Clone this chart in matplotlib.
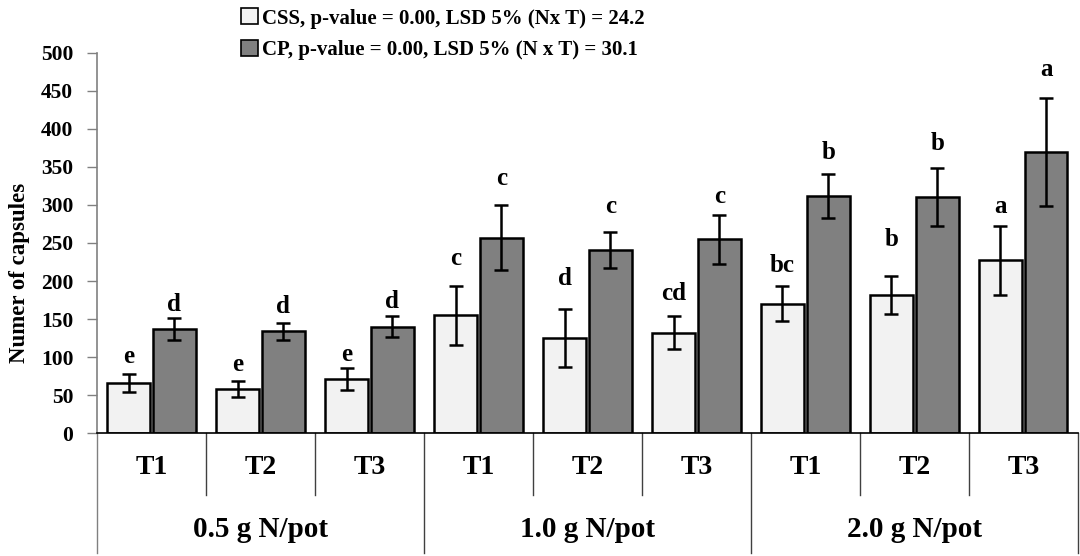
import numpy as np
import matplotlib
matplotlib.use("Agg")
import matplotlib.pyplot as plt
from matplotlib.patches import Patch

plt.rcParams['font.family'] = ['Liberation Serif', 'DejaVu Serif']
plt.rcParams['font.weight'] = 'bold'

treatments = ['T1', 'T2', 'T3'] * 3
groups = ['0.5 g N/pot', '1.0 g N/pot', '2.0 g N/pot']

css = [66, 58, 71, 155, 125, 132, 170, 181, 227]
css_err = [12, 10, 14, 39, 38, 22, 23, 25, 45]
css_let = ['e', 'e', 'e', 'c', 'd', 'cd', 'bc', 'b', 'a']
css_let_y = [92, 82, 95, 221, 195, 175, 212, 246, 290]

cp = [137, 134, 140, 257, 241, 255, 312, 311, 370]
cp_err = [14, 11, 14, 43, 24, 32, 29, 38, 71]
cp_let = ['d', 'd', 'd', 'c', 'c', 'c', 'b', 'b', 'a']
cp_let_y = [160, 158, 165, 326, 290, 302, 360, 373, 470]

fig = plt.figure(figsize=(10.8, 5.56), dpi=100)
ax = fig.add_axes([0.0898, 0.2212, 0.9082, 0.6835])

x = np.arange(len(css))
w = 0.39
off = 0.21

ax.bar(x - off, css, w, color='#f2f2f2', edgecolor='black', linewidth=1.8, zorder=2)
ax.bar(x + off, cp, w, color='#808080', edgecolor='black', linewidth=1.8, zorder=2)
ax.errorbar(x - off, css, yerr=css_err, fmt='none', ecolor='black', elinewidth=1.8,
            capsize=5, capthick=1.8, zorder=3)
ax.errorbar(x + off, cp, yerr=cp_err, fmt='none', ecolor='black', elinewidth=1.8,
            capsize=5, capthick=1.8, zorder=3)

for i in range(len(css)):
    ax.text(x[i] - off, css_let_y[i], css_let[i], ha='center', va='baseline',
            fontsize=18, fontweight='bold')
    ax.text(x[i] + off, cp_let_y[i], cp_let[i], ha='center', va='baseline',
            fontsize=18, fontweight='bold')

ax.set_xlim(-0.5, 8.5)
ax.set_ylim(0, 500)
ax.set_yticks(np.arange(0, 501, 50))
ax.tick_params(axis='y', labelsize=15.5, length=7, width=1, color='#808080', pad=10)
ax.set_xticks([])
ax.set_ylabel('Numer of capsules', fontsize=16.5, fontweight='bold')
ax.yaxis.set_label_coords(-0.068, 0.42)

for s in ['top', 'right']:
    ax.spines[s].set_visible(False)
ax.spines['left'].set_color('#808080')
ax.spines['left'].set_linewidth(1.2)
ax.spines['left'].set_bounds(0, 500)
ax.spines['bottom'].set_color('black')
ax.spines['bottom'].set_linewidth(1.2)

# category table below the axis
tr = ax.get_xaxis_transform()
for b in range(len(css) + 1):
    xb = b - 0.5
    y1 = -0.316 if b % 3 == 0 else -0.163
    col = '#808080' if b == 0 else '#404040'
    ax.plot([xb, xb], [0, y1], transform=tr, color=col, lw=1.0, clip_on=False)
for i, t in enumerate(treatments):
    ax.text(i, -0.09, t, transform=tr, ha='center', va='center', fontsize=20,
            fontweight='bold')
for g, name in enumerate(groups):
    ax.text(3 * g + 1, -0.255, name, transform=tr, ha='center', va='center',
            fontsize=21, fontweight='bold')

handles = [Patch(facecolor='#f2f2f2', edgecolor='black', linewidth=1.2),
           Patch(facecolor='#808080', edgecolor='black', linewidth=1.2)]
labels = ['CSS, p-value = 0.00, LSD 5% (Nx T) = 24.2',
          'CP, p-value = 0.00, LSD 5% (N x T) = 30.1']
fig.legend(handles, labels, loc='upper left', bbox_to_anchor=(0.208, 1.015),
           frameon=False, fontsize=15, handlelength=0.8, handleheight=0.8,
           handletextpad=0.2, labelspacing=0.55, borderpad=0.3)

fig.savefig('out.png', dpi=100)
